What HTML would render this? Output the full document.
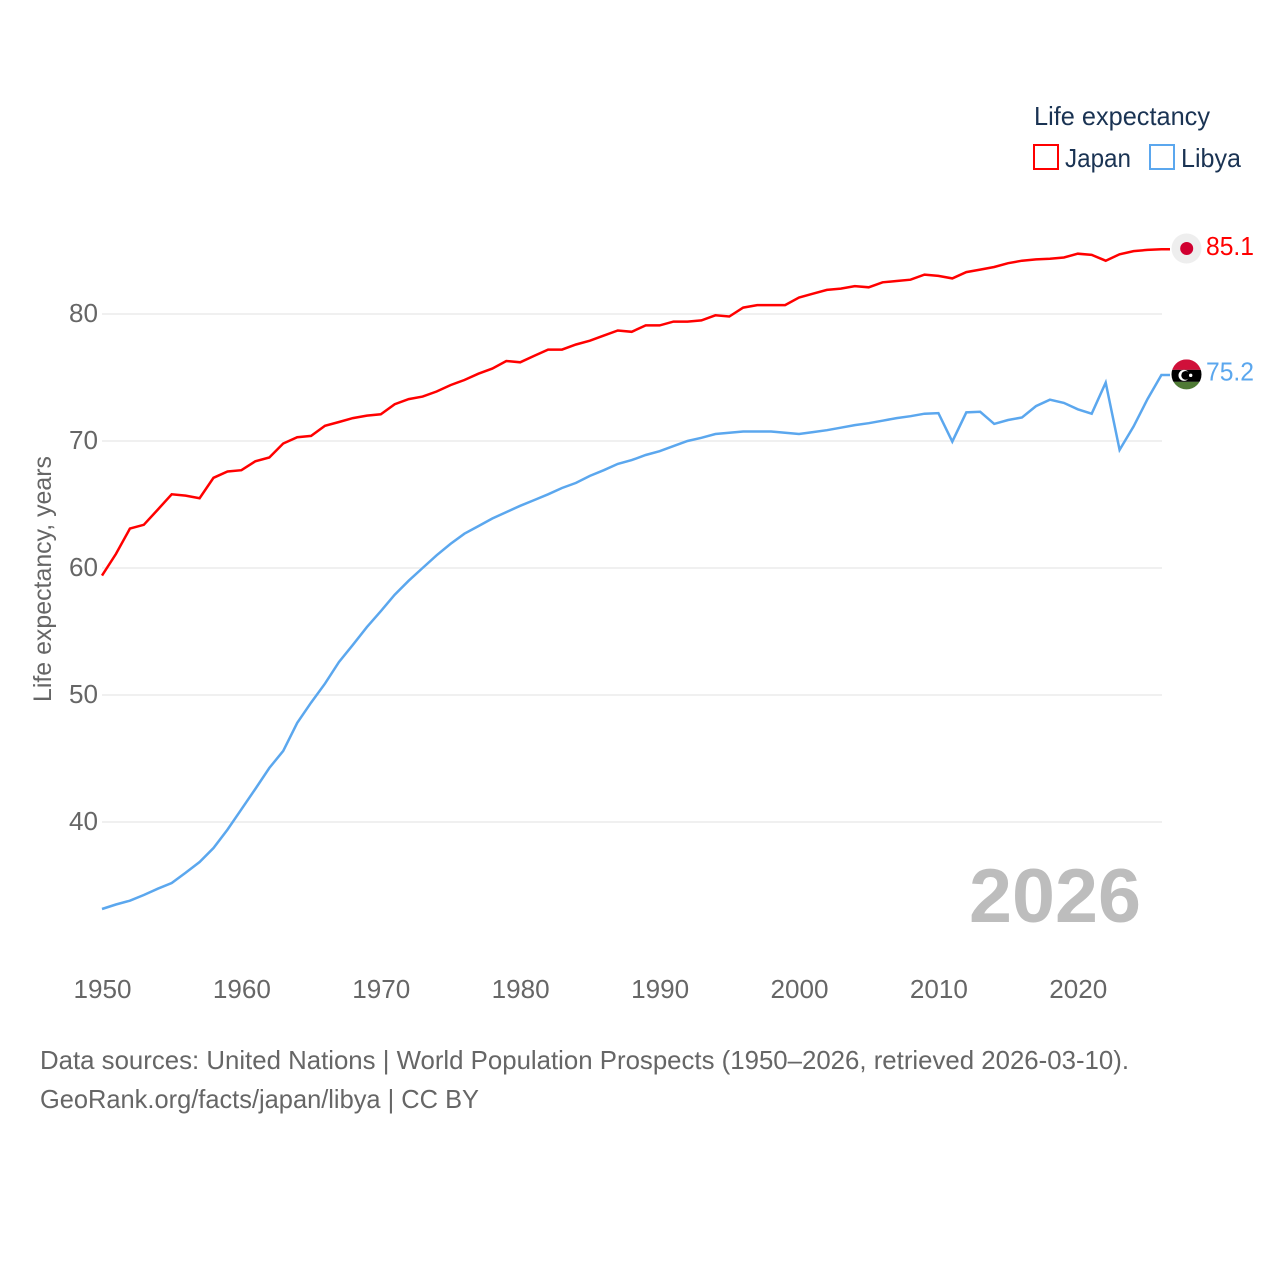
<!DOCTYPE html>
<html lang="en">
<head>
<meta charset="utf-8">
<title>Life expectancy: Japan and Libya</title>
<style>
html,body{margin:0;padding:0;background:#fff;width:1280px;height:1280px;overflow:hidden}
svg{display:block}
text{font-family:"Liberation Sans",sans-serif}
</style>
</head>
<body>
<svg id="chart" width="1280" height="1280" viewBox="0 0 1280 1280" xmlns="http://www.w3.org/2000/svg">
  <rect x="0" y="0" width="1280" height="1280" fill="#fff"/>
  <g id="grid"></g>
  <g id="yticks"></g>
  <g id="xticks"></g>
  <text transform="translate(51,702) rotate(-90)" font-size="25" fill="#666" textLength="246" lengthAdjust="spacingAndGlyphs">Life expectancy, years</text>
  <text x="969" y="922" font-size="76" font-weight="bold" fill="#bdbdbd" textLength="172" lengthAdjust="spacingAndGlyphs">2026</text>
  <g id="series"></g>
  <g id="ends"></g>
  <g>
    <text x="1034" y="125" font-size="26" fill="#1a3353" textLength="176" lengthAdjust="spacingAndGlyphs">Life expectancy</text>
    <rect x="1034" y="145" width="24" height="24" fill="#fff" stroke="#ff0000" stroke-width="2"/>
    <text x="1065" y="167" font-size="26" fill="#1a3353" textLength="66" lengthAdjust="spacingAndGlyphs">Japan</text>
    <rect x="1150" y="145" width="24" height="24" fill="#fff" stroke="#5ba7ee" stroke-width="2"/>
    <text x="1181" y="167" font-size="26" fill="#1a3353" textLength="60" lengthAdjust="spacingAndGlyphs">Libya</text>
  </g>
  <text x="40" y="1069" font-size="26" fill="#666" textLength="1089" lengthAdjust="spacingAndGlyphs">Data sources: United Nations | World Population Prospects (1950–2026, retrieved 2026-03-10).</text>
  <text x="40" y="1108" font-size="26" fill="#666" textLength="439" lengthAdjust="spacingAndGlyphs">GeoRank.org/facts/japan/libya | CC BY</text>
</svg>
<script>
const firstYear = 1950;
const japanValues = [59.4,61.1,63.1,63.4,64.6,65.8,65.7,65.5,67.1,67.6,67.7,68.4,68.7,69.8,70.3,70.4,71.2,71.5,71.8,72.0,72.1,72.9,73.3,73.5,73.9,74.4,74.8,75.3,75.7,76.3,76.2,76.7,77.2,77.2,77.6,77.9,78.3,78.7,78.6,79.1,79.1,79.4,79.4,79.5,79.9,79.8,80.5,80.7,80.7,80.7,81.3,81.6,81.9,82.0,82.2,82.1,82.5,82.6,82.7,83.1,83.0,82.8,83.3,83.5,83.7,84.0,84.2,84.3,84.35,84.45,84.75,84.65,84.2,84.7,84.95,85.05,85.1];
const libyaValues = [33.15,33.5,33.8,34.25,34.75,35.2,36.0,36.85,37.95,39.4,41.0,42.6,44.25,45.6,47.8,49.4,50.9,52.6,53.95,55.35,56.6,57.9,59.0,60.0,61.0,61.9,62.7,63.3,63.9,64.4,64.9,65.35,65.8,66.3,66.7,67.25,67.7,68.2,68.5,68.9,69.2,69.6,70.0,70.25,70.55,70.65,70.75,70.75,70.75,70.65,70.55,70.7,70.85,71.05,71.25,71.4,71.6,71.8,71.95,72.15,72.2,69.95,72.25,72.3,71.35,71.65,71.85,72.75,73.25,73.0,72.5,72.15,74.6,69.3,71.15,73.3,75.2];
const yTickValues = [40,50,60,70,80];
const xTickYears = [1950,1960,1970,1980,1990,2000,2010,2020];
const japanEndLabel = "85.1";
const libyaEndLabel = "75.2";

const NS = 'http://www.w3.org/2000/svg';
const xScale = year => 102 + (year - firstYear) * 13.94;
const yScale = value => 822 - (value - 40) * 12.7;

function make(tag, attrs, parentId, content) {
  const el = document.createElementNS(NS, tag);
  Object.keys(attrs).forEach(k => el.setAttribute(k, attrs[k]));
  if (content !== undefined) el.textContent = content;
  document.getElementById(parentId).appendChild(el);
  return el;
}

yTickValues.forEach(v => {
  const line = make('line', {x1: 102, x2: 1162, y1: yScale(v), y2: yScale(v), stroke: '#ececec', 'stroke-width': 1.5}, 'grid');
  
  
  const label = make('text', {x: 69, y: yScale(v) + 8, 'font-size': 26, fill: '#666', textLength: 29, lengthAdjust: 'spacingAndGlyphs'}, 'yticks', String(v));
  
  
});

xTickYears.forEach(y => {
  const label = make('text', {x: xScale(y) - 28.5, y: 998, 'font-size': 26, fill: '#666', textLength: 58, lengthAdjust: 'spacingAndGlyphs'}, 'xticks', String(y));
  
  
});

function linePoints(values) {
  const pts = values.map((v, i) => xScale(firstYear + i).toFixed(1) + ',' + yScale(v).toFixed(1));
  pts.push('1170,' + yScale(values[values.length - 1]).toFixed(1));
  return pts.join(' ');
}

const libyaLine = make('polyline', {points: linePoints(libyaValues), fill: 'none', stroke: '#5ba7ee', 'stroke-width': 2.5, 'stroke-linejoin': 'miter'}, 'series');


const japanLine = make('polyline', {points: linePoints(japanValues), fill: 'none', stroke: '#ff0000', 'stroke-width': 2.5, 'stroke-linejoin': 'miter'}, 'series');



const jy = yScale(japanValues[japanValues.length - 1]) - 0.7;
const ly = yScale(libyaValues[libyaValues.length - 1]) - 0.6;

const jpBg = make('circle', {cx: 1186.5, cy: jy, r: 15, fill: '#eeeeee'}, 'ends');


const jpDot = make('circle', {cx: 1186.7, cy: jy, r: 6.5, fill: '#d00030'}, 'ends');


const jpLabel = make('text', {x: 1206, y: jy + 6.5, 'font-size': 26, fill: '#ff0000', textLength: 48, lengthAdjust: 'spacingAndGlyphs'}, 'ends', japanEndLabel);



const clip = make('clipPath', {id: 'libya-clip'}, 'ends');
const clipCircle = document.createElementNS(NS, 'circle');
clipCircle.setAttribute('cx', 1186.5);
clipCircle.setAttribute('cy', ly);
clipCircle.setAttribute('r', 15);
clip.appendChild(clipCircle);
const flag = make('g', {'clip-path': 'url(#libya-clip)'}, 'ends');
flag.setAttribute('id', 'libya-flag');


const red = make('rect', {x: 1171, y: ly - 15, width: 31, height: 10.5, fill: '#d0103a'}, 'libya-flag');


const black = make('rect', {x: 1171, y: ly - 4.5, width: 31, height: 12, fill: '#000'}, 'libya-flag');


const green = make('rect', {x: 1171, y: ly + 7.5, width: 31, height: 8, fill: '#4f7a35'}, 'libya-flag');


const moon = make('circle', {cx: 1184, cy: ly + 1, r: 5.5, fill: '#fff'}, 'libya-flag');


const moonCut = make('circle', {cx: 1185.7, cy: ly + 1, r: 4.4, fill: '#000'}, 'libya-flag');


const star = make('circle', {cx: 1190.7, cy: ly + 1, r: 1.7, fill: '#fff'}, 'libya-flag');


const lyLabel = make('text', {x: 1206, y: ly + 6, 'font-size': 26, fill: '#5ba7ee', textLength: 48, lengthAdjust: 'spacingAndGlyphs'}, 'ends', libyaEndLabel);


</script>
</body>
</html>
